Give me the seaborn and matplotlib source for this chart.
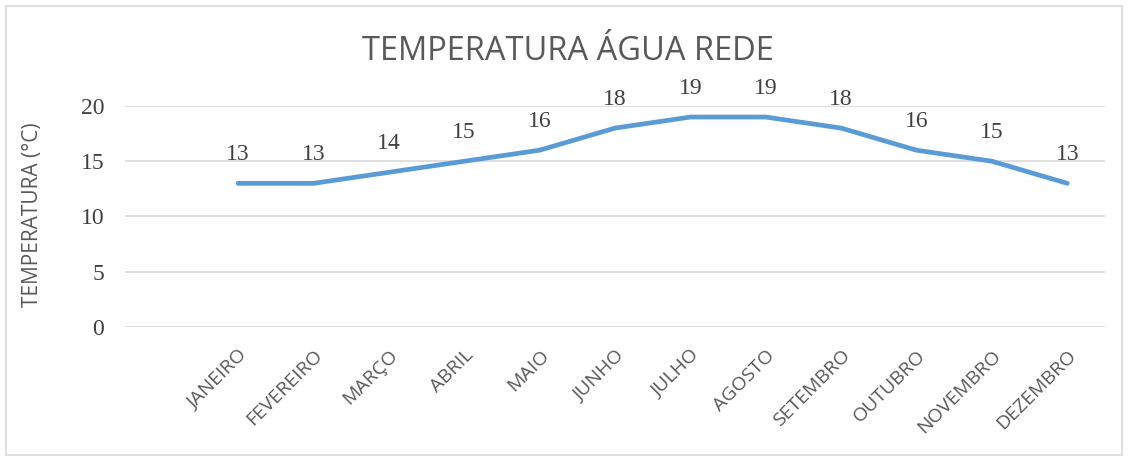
import pandas as pd
import numpy as np
import matplotlib
matplotlib.use('Agg')
import matplotlib.pyplot as plt
import seaborn as sns

# Dados
meses = ['JANEIRO', 'FEVEREIRO', 'MARÇO', 'ABRIL', 'MAIO', 'JUNHO', 'JULHO',
         'AGOSTO', 'SETEMBRO', 'OUTUBRO', 'NOVEMBRO', 'DEZEMBRO']
temperaturas = [13, 13, 14, 15, 16, 18, 19, 19, 18, 16, 15, 13]
yticks = [0, 5, 10, 15, 20]

df = pd.DataFrame({'mes': meses, 'temp': temperaturas})
df['pos'] = np.arange(len(meses))

sns.set_style('white')
cinza = '#595959'

fig = plt.figure(figsize=(11.3, 4.61), dpi=100)
ax = fig.add_axes([125/1130, 1 - 327/461, (1105 - 125)/1130, (327 - 106)/461])

sns.lineplot(data=df, x='pos', y='temp', ax=ax, color='#5B9BD5', linewidth=3.4,
             solid_capstyle='round', solid_joinstyle='round')

# rotulos de dados
for x, y in zip(df['pos'], df['temp']):
    ax.annotate(str(y), (x, y), xytext=(0, 13), textcoords='offset points',
                ha='center', va='bottom', fontsize=17, color='#404040',
                family='Liberation Serif')

ax.set_xlim(-1.5, 11.5)
ax.set_ylim(0, 20)
ax.set_yticks(yticks)
ax.set_yticklabels([str(v) for v in yticks], family='Liberation Serif', fontsize=17, color='#404040')
ax.set_xticks(df['pos'])
ax.set_xticklabels(meses, rotation=45, ha='right', rotation_mode='anchor',
                   family='Open Sans', fontsize=14, color=cinza)
ax.tick_params(axis='y', length=0, pad=15)
ax.tick_params(axis='x', length=0, pad=14)
ax.grid(axis='y', color='#D9D9D9', linewidth=1.2)
ax.set_axisbelow(True)
for s in ax.spines.values():
    s.set_visible(False)

ax.set_xlabel('')
ax.set_ylabel('TEMPERATURA (°C)', family='Open Sans', fontsize=15, color=cinza)
ax.yaxis.set_label_coords(-0.084, 0.51)

fig.text(568/1130, 1 - 51/461, 'TEMPERATURA ÁGUA REDE', ha='center', va='center',
         family='Open Sans', fontsize=23.5, color=cinza)

# borda da figura
fig.patches.append(plt.Rectangle((6/1130, 6/461), 1116/1130, 449/461, transform=fig.transFigure,
                                 fill=False, edgecolor='#D9D9D9', linewidth=1.2))

fig.savefig('out.png', dpi=100)
